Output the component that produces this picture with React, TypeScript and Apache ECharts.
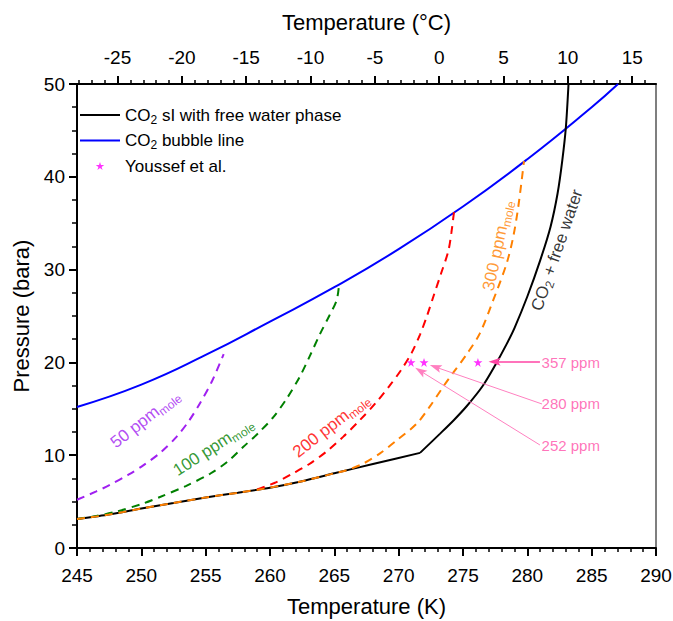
import React, { useEffect, useRef } from 'react';
import * as echarts from 'echarts';

// ---------- data ----------
const bubbleT = [245, 250, 255, 260, 265, 270, 275, 280, 285, 287.05];
const bubbleP = [15.2, 17.6, 20.8, 24.4, 28.1, 32.2, 36.8, 41.9, 47.5, 50];

const hydrateLowT = [245, 247.5, 250, 252.5, 255, 257.5, 260, 262.5, 265, 268, 271.66];
const hydrateLowP = [3.12, 3.6, 4.25, 4.85, 5.45, 5.95, 6.5, 7.2, 8.05, 9.05, 10.25];
const hydrateHighT = [271.66, 273.2, 274.3, 275.3, 276.5, 277.5, 278.4, 279.0, 280.0, 281.0, 281.8, 282.35, 282.72, 283.0, 283.2];
const hydrateHighP = [10.25, 12.3, 13.8, 15.3, 17.4, 19.7, 22.0, 23.7, 27.1, 31.0, 34.6, 38.2, 41.8, 45.4, 50];

const ppm50T = [245, 246.5, 247.56, 249, 250.15, 251.5, 252.75, 253.7, 254.56, 255.5, 256.4];
const ppm50P = [5.2, 6.1, 6.8, 7.9, 8.9, 10.3, 12.0, 13.7, 15.6, 18.0, 20.9];

const ppm100T = [245, 246.5, 248, 250.15, 251.45, 253.5, 255.34, 256.7, 257.93, 259.1, 260.26, 261.3, 262.33, 263.1, 263.9, 264.6, 265.18, 265.36];
const ppm100P = [3.12, 3.45, 3.9, 4.8, 5.5, 6.7, 8.0, 9.3, 10.9, 12.4, 14.1, 16.1, 18.5, 20.7, 23.1, 25.0, 26.7, 28.3];

const ppm200T = [259, 260.5, 261.8, 263, 264.4, 265.7, 267.0, 268.2, 269.3, 270.2, 271.0, 271.66, 272.2, 272.7, 273.3, 273.86, 274.1, 274.3];
const ppm200P = [6.3, 7.1, 8.05, 9.0, 10.4, 12.0, 13.8, 15.6, 17.5, 19.2, 21.0, 23.0, 25.0, 27.1, 29.6, 32.0, 34.0, 36.2];

const ppm300T = [245, 247.5, 250, 252.5, 255, 257.5, 260, 262.5, 265, 266, 267.25, 268.55, 269.85, 271.4, 272.4, 273.47, 274.3, 275.3, 276.3, 277.35, 278.4, 278.9, 279.3, 279.74];
const ppm300P = [3.12, 3.6, 4.25, 4.85, 5.45, 5.95, 6.5, 7.2, 8.05, 8.4, 9.1, 10.2, 11.6, 13.4, 15.2, 17.4, 19.0, 20.9, 23.1, 26.7, 30.7, 33.5, 36.8, 41.7];

const youssefT = [270.96, 271.97, 276.16];
const youssefP = [20, 20, 20];

const annoText = ['252 ppm', '280 ppm', '357 ppm'];
const annoTextT = [281.1, 281.1, 281.1];
const annoTextP = [11.0, 15.6, 20.0];
const arrowStartT = [280.98, 281.14, 280.98];
const arrowStartP = [11.1, 15.52, 20.07];
const arrowEndT = [271.68, 272.86, 277.45];
const arrowEndP = [19.08, 19.5, 20.07];

const curveLabelText = ['50 ppm', '100 ppm', '200 ppm', '300 ppm'];
const curveLabelT = [250.3, 255.6, 264.75, 277.7];
const curveLabelP = [13.9, 10.9, 13.2, 32.6];
const curveLabelAngle = [38, 33, 38, 78];
const curveLabelColor = ['#a020f0', '#008000', '#ff0000', '#ff8000'];

const hydrateLabelT = 282.3;
const hydrateLabelP = 32.1;
const hydrateLabelAngle = 71;

const xTicksK = [245, 290, 5];
const yTicks = [0, 50, 10];
const topMajorC = [-25, -20, -15, -10, -5, 0, 5, 10, 15];
const topMinorC = [-28, -27, -26, -24, -23, -22, -21, -19, -18, -17, -16, -14, -13, -12, -11, -9, -8, -7, -6, -4, -3, -2, -1, 1, 2, 3, 4, 6, 7, 8, 9, 11, 12, 13, 14, 16];

const KELVIN = 273.15;
const BLACK_NAME = 'CO2 sI with free water phase';
const BLUE_NAME = 'CO2 bubble line';
const STAR_NAME = 'Youssef et al.';

const FONT = '"Liberation Sans", Arial, Helvetica, sans-serif';
const starPath = 'path://M50,0L61.8,35.3L99,35.3L68.8,57.1L80.3,92.4L50,70.6L19.7,92.4L31.2,57.1L1,35.3L38.2,35.3Z';
const lineIcon = 'path://M0,0L40,0L40,2L0,2Z';
const arrowPath = 'path://M4,0L8,12L4,9.5L0,12Z';

const zip = (a: number[], b: number[]) => a.map((v, i) => [v, b[i]]);

export default function App() {
  const ref = useRef<HTMLDivElement>(null);
  useEffect(() => {
    const chart = echarts.init(ref.current!, null, { renderer: 'svg' });
    const axisLineStyle = { color: '#000', width: 2 };
    const labelStyle = { fontSize: 19, color: '#000', fontFamily: FONT };
    const nameStyle = { fontSize: 22, color: '#000', fontFamily: FONT };

    const legendRich = {
      a: { fontSize: 17, lineHeight: 21, color: '#000', fontFamily: FONT },
      s: { fontSize: 12, lineHeight: 11, verticalAlign: 'bottom', color: '#000', fontFamily: FONT },
    };

    const dashed = (name: string, t: number[], p: number[], color: string) => ({
      type: 'line',
      name,
      data: zip(t, p),
      symbol: 'none',
      smooth: 0.3,
      silent: true,
      color,
      lineStyle: { color, width: 2, type: [8, 6] },
      z: 3,
    });

    const option: any = {
      animation: false,
      backgroundColor: '#ffffff',
      textStyle: { fontFamily: FONT },
      grid: { left: 77, right: 17, top: 84, bottom: 73, containLabel: false, outerBoundsMode: 'none' },
      legend: {
        data: [
          { name: BLACK_NAME, icon: lineIcon },
          { name: BLUE_NAME, icon: lineIcon },
          { name: STAR_NAME, icon: starPath },
        ],
        orient: 'vertical',
        left: 80,
        top: 104.5,
        padding: 0,
        itemWidth: 40,
        itemHeight: 8,
        itemGap: 4.5,
        selectedMode: false,
        formatter: (name: string) => {
          if (name === BLACK_NAME) return '{a|CO}{s|2}{a| sI with free water phase}';
          if (name === BLUE_NAME) return '{a|CO}{s|2}{a| bubble line}';
          return '{a|' + name + '}';
        },
        textStyle: { fontSize: 17, color: '#000', lineHeight: 21, rich: legendRich },
      },
      xAxis: [
        {
          type: 'value',
          position: 'bottom',
          min: xTicksK[0],
          max: xTicksK[1],
          interval: xTicksK[2],
          name: 'Temperature (K)',
          nameLocation: 'middle',
          nameGap: 47,
          nameTextStyle: nameStyle,
          axisLine: { show: true, onZero: false, lineStyle: axisLineStyle },
          axisTick: { show: true, length: 8, lineStyle: { color: '#000', width: 2 } },
          minorTick: { show: true, splitNumber: 5, length: 4, lineStyle: { color: '#000', width: 1.5 } },
          axisLabel: { ...labelStyle, margin: 18 },
          splitLine: { show: false },
          minorSplitLine: { show: false },
        },
        {
          type: 'value',
          position: 'top',
          min: xTicksK[0] - KELVIN,
          max: xTicksK[1] - KELVIN,
          name: 'Temperature (°C)',
          nameLocation: 'middle',
          nameGap: 51,
          nameTextStyle: nameStyle,
          axisLine: { show: true, onZero: false, lineStyle: axisLineStyle },
          axisTick: { show: true, length: 8, customValues: topMajorC, lineStyle: { color: '#000', width: 2 } },
          axisLabel: { ...labelStyle, margin: 17, customValues: topMajorC },
          splitLine: { show: false },
        },
        {
          type: 'value',
          position: 'top',
          min: xTicksK[0] - KELVIN,
          max: xTicksK[1] - KELVIN,
          axisLine: { show: false, onZero: false },
          axisTick: { show: true, length: 4, customValues: topMinorC, lineStyle: { color: '#000', width: 1.5 } },
          axisLabel: { show: false },
          splitLine: { show: false },
        },
      ],
      yAxis: [
        {
          type: 'value',
          position: 'left',
          min: yTicks[0],
          max: yTicks[1],
          interval: yTicks[2],
          name: 'Pressure (bara)',
          nameLocation: 'middle',
          nameGap: 42,
          nameTextStyle: nameStyle,
          axisLine: { show: true, onZero: false, lineStyle: axisLineStyle },
          axisTick: { show: true, length: 8, lineStyle: { color: '#000', width: 2 } },
          minorTick: { show: true, splitNumber: 4, length: 5, lineStyle: { color: '#000', width: 1.5 } },
          axisLabel: { ...labelStyle, margin: 12 },
          splitLine: { show: false },
          minorSplitLine: { show: false },
        },
        {
          type: 'value',
          position: 'right',
          min: yTicks[0],
          max: yTicks[1],
          axisLine: { show: true, onZero: false, lineStyle: { color: '#555', width: 1.5 } },
          axisTick: { show: false },
          axisLabel: { show: false },
          splitLine: { show: false },
        },
      ],
      series: [
        {
          type: 'line',
          name: BLUE_NAME,
          data: zip(bubbleT, bubbleP),
          symbol: 'none',
          smooth: true,
          silent: true,
          color: '#0000ff',
          lineStyle: { color: '#0000ff', width: 2 },
          z: 2,
        },
        {
          type: 'line',
          name: BLACK_NAME,
          data: zip(hydrateLowT, hydrateLowP),
          symbol: 'none',
          smooth: 0.2,
          silent: true,
          color: '#000',
          lineStyle: { color: '#000', width: 2 },
          z: 2,
        },
        {
          type: 'line',
          name: BLACK_NAME,
          data: zip(hydrateHighT, hydrateHighP),
          symbol: 'none',
          smooth: 0.3,
          silent: true,
          color: '#000',
          lineStyle: { color: '#000', width: 2 },
          z: 2,
        },
        dashed('50 ppm', ppm50T, ppm50P, curveLabelColor[0]),
        dashed('100 ppm', ppm100T, ppm100P, curveLabelColor[1]),
        dashed('200 ppm', ppm200T, ppm200P, curveLabelColor[2]),
        dashed('300 ppm', ppm300T, ppm300P, curveLabelColor[3]),
        {
          type: 'scatter',
          name: STAR_NAME,
          data: zip(youssefT, youssefP),
          symbol: starPath,
          symbolSize: 9,
          silent: true,
          color: '#ff00ff',
          itemStyle: { color: '#ff00ff' },
          z: 6,
          markLine: {
            silent: true,
            animation: false,
            symbol: ['none', arrowPath],
            symbolSize: 12,
            symbolKeepAspect: true,
            label: { show: false },
            data: arrowStartT.map((t, i) => {
              const col = i === 2 ? '#ff44a4' : '#ff70b8';
              return [
                {
                  coord: [t, arrowStartP[i]],
                  lineStyle: i === 2
                    ? { color: '#ff44a4', width: 1.5, type: 'solid' }
                    : { color: '#ff80c0', width: 1, type: 'solid' },
                  itemStyle: { color: col },
                },
                { coord: [arrowEndT[i], arrowEndP[i]], itemStyle: { color: col } },
              ];
            }),
          },
        },
        {
          type: 'scatter',
          name: 'annotations',
          data: annoText.map((txt, i) => ({ value: [annoTextT[i], annoTextP[i]], name: txt })),
          symbolSize: 0.1,
          silent: true,
          itemStyle: { color: 'rgba(0,0,0,0)' },
          z: 7,
          label: {
            show: true,
            position: 'right',
            distance: 0,
            formatter: (p: any) => p.name,
            fontSize: 15,
            color: '#ff4fa8',
            fontFamily: FONT,
          },
        },
        {
          type: 'scatter',
          name: 'curve labels',
          silent: true,
          symbolSize: 0.1,
          itemStyle: { color: 'rgba(0,0,0,0)' },
          z: 7,
          data: [
            ...curveLabelText.map((txt, i) => ({
              value: [curveLabelT[i], curveLabelP[i]],
              label: {
                show: true,
                position: 'inside',
                rotate: curveLabelAngle[i],
                formatter: '{a|' + txt + '}{s|mole}',
                rich: {
                  a: { fontSize: 17, lineHeight: 21, color: curveLabelColor[i], fontFamily: FONT },
                  s: { fontSize: 12, lineHeight: 11, verticalAlign: 'bottom', color: curveLabelColor[i], fontFamily: FONT },
                },
              },
            })),
            {
              value: [hydrateLabelT, hydrateLabelP],
              label: {
                show: true,
                position: 'inside',
                rotate: hydrateLabelAngle,
                formatter: '{a|CO}{s|2}{a| + free water}',
                rich: {
                  a: { fontSize: 17, lineHeight: 21, color: '#000', fontFamily: FONT },
                  s: { fontSize: 12, lineHeight: 11, verticalAlign: 'bottom', color: '#000', fontFamily: FONT },
                },
              },
            },
          ],
        },
      ],
    };
    chart.setOption(option);
    return () => chart.dispose();
  }, []);
  return (
    <div
      ref={ref}
      style={{ position: 'fixed', left: 0, top: 0, width: 673, height: 621, background: '#fff' }}
    />
  );
}
